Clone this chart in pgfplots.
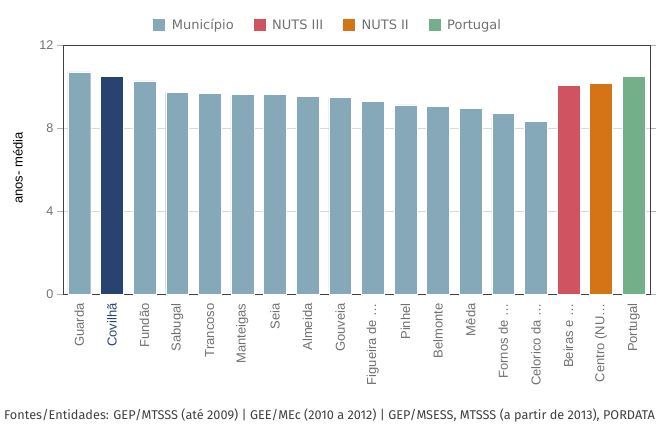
\documentclass[border=0pt]{standalone}
\usepackage{pgfplots}
\pgfplotsset{compat=1.18}
\usepackage{fontspec}
\setmainfont{Liberation Sans}
\newfontfamily\legfont{DejaVu Sans}
\newfontfamily\srcfont{Fira Sans}
\definecolor{muni}{HTML}{86A9B9}
\definecolor{covblue}{HTML}{28436F}
\definecolor{nutsthree}{HTML}{CF5361}
\definecolor{nutstwo}{HTML}{D57416}
\definecolor{port}{HTML}{73AF88}
\definecolor{txtgray}{HTML}{707070}
\begin{document}
\begin{tikzpicture}
\useasboundingbox (0bp,0bp) rectangle (666bp,-424bp);
\begin{axis}[
  at={(63bp,-294bp)}, anchor=south west,
  scale only axis, width=587bp, height=249bp,
  xmin=-0.5, xmax=17.5, ymin=0, ymax=12,
  ytick={0,4,8,12},
  xtick={0,...,17},
  xticklabels={Guarda,\textcolor{covblue}{Covilhã},Fundão,Sabugal,Trancoso,Manteigas,Seia,Almeida,Gouveia,Figueira de \dots,Pinhel,Belmonte,Mêda,Fornos de \dots,Celorico da \dots,Beiras e \dots,Centro (NU\dots,Portugal},
  x tick label style={rotate=90, anchor=east, font=\fontsize{13bp}{15bp}\selectfont, text=txtgray},
  y tick label style={font=\fontsize{12.6bp}{14bp}\selectfont, text=txtgray},
  /pgf/number format/assume math mode=true,
  x tick style={draw=none},
  y tick style={draw=gray!60},
  tick align=outside, major tick length=6bp,
  ymajorgrids, grid style={gray!30, line width=0.8pt},
  axis line style={draw=black!75, line width=0.8pt},
  ybar, bar width=0.7, bar shift=0pt,
  every axis plot/.append style={draw=white, line width=0.4pt},
  legend style={at={(0.451,1.08)}, anchor=center, legend columns=-1, draw=none, fill=none,
    font=\legfont\fontsize{13bp}{15bp}\selectfont, text=txtgray,
    /tikz/every odd column/.append style={column sep=4bp},
    /tikz/every even column/.append style={column sep=17bp}},
  legend image code/.code={\fill[#1] (0bp,-6.5bp) rectangle (13bp,6.5bp);},
  clip=false,
]
\addplot[fill=muni] coordinates {(0,10.70) (2,10.27) (3,9.72) (4,9.66) (5,9.61) (6,9.61) (7,9.51) (8,9.49) (9,9.29) (10,9.12) (11,9.06) (12,8.95) (13,8.69) (14,8.31)};
\addlegendentry{Município}
\addplot[fill=nutsthree] coordinates {(15,10.04)};
\addlegendentry{NUTS III}
\addplot[fill=nutstwo] coordinates {(16,10.14)};
\addlegendentry{NUTS II}
\addplot[fill=port] coordinates {(17,10.49)};
\addlegendentry{Portugal}
\addplot[fill=covblue, forget plot] coordinates {(1,10.49)};
\end{axis}
\node[rotate=90, font=\fontsize{13bp}{15bp}\selectfont] at (18bp,-168bp) {anos- média};
\node[anchor=base west, font=\srcfont\fontsize{12.7bp}{15bp}\selectfont, text=black!75, inner sep=0pt] at (4bp,-419bp) {Fontes/Entidades: GEP/MTSSS (até 2009) | GEE/MEc (2010 a 2012) | GEP/MSESS, MTSSS (a partir de 2013), PORDATA};
\end{tikzpicture}
\end{document}
